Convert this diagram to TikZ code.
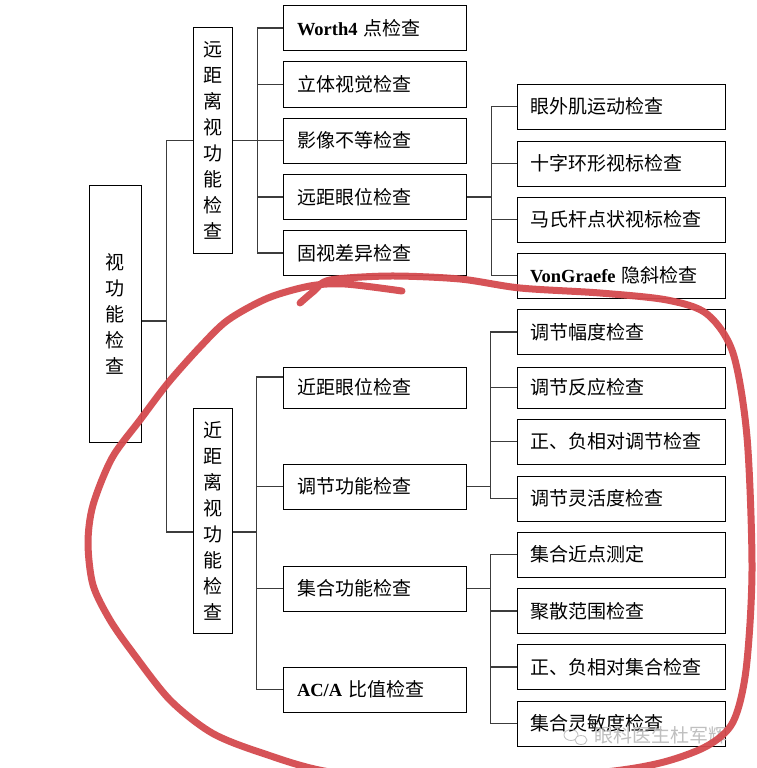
\documentclass[tikz,border=0pt]{standalone}
\usepackage{fontspec}
\setmainfont{Liberation Serif}
\newfontfamily\cjk{Noto Sans CJK SC}
\definecolor{pen}{RGB}{212,74,78}
\definecolor{wire}{RGB}{60,60,60}
\tikzset{
  box/.style={draw=black, line width=1pt, fill=white, rectangle, inner ysep=0pt,
    font=\cjk\fontsize{19}{22}\selectfont},
  midbox/.style={box, inner xsep=14pt, text width=155pt, align=left, minimum height=45pt},
  widebox/.style={box, inner xsep=13pt, text width=182pt, align=left, minimum height=45pt},
  vbox/.style={box, inner xsep=0pt, minimum width=39pt, minimum height=225pt, align=center,
    font=\cjk\fontsize{19}{26}\selectfont},
  conn/.style={draw=wire, line width=1.2pt},
  lat/.style={}
}
\newcommand{\lt}[1]{{\rmfamily\bfseries\fontsize{18.5}{22}\selectfont #1}}
\begin{document}
\begin{tikzpicture}[x=1pt,y=-1pt]
\fill[white] (0,0) rectangle (756,768);
\useasboundingbox (0,0) rectangle (756,768);

% root
\node[vbox, minimum width=52pt, minimum height=257pt] (root) at (115,313.5) {视\\功\\能\\检\\查};
% groups
\node[vbox] (far) at (212.5,140.5) {远\\距\\离\\视\\功\\能\\检\\查};
\node[vbox] (near) at (212.5,520.5) {近\\距\\离\\视\\功\\能\\检\\查};

% far children
\node[midbox] (w1) at (374.5,28) {\lt{Worth4} 点检查};
\node[midbox] (w2) at (374.5,84.5) {立体视觉检查};
\node[midbox] (w3) at (374.5,140.5) {影像不等检查};
\node[midbox] (w4) at (374.5,197) {远距眼位检查};
\node[midbox] (w5) at (374.5,253) {固视差异检查};

\node[widebox] (r1) at (621,106.5) {眼外肌运动检查};
\node[widebox] (r2) at (621,163.5) {十字环形视标检查};
\node[widebox] (r3) at (621,219.5) {马氏杆点状视标检查};
\node[widebox] (r4) at (621,275.5) {\lt{VonGraefe} 隐斜检查};

% near children
\node[midbox, minimum height=41pt] (n1) at (374.5,387.5) {近距眼位检查};
\node[midbox] (n2) at (374.5,486.5) {调节功能检查};
\node[midbox] (n3) at (374.5,588.5) {集合功能检查};
\node[midbox] (n4) at (374.5,689.5) {\lt{AC/A} 比值检查};

\node[widebox] (a1) at (621,332) {调节幅度检查};
\node[widebox, minimum height=41pt] (a2) at (621,387.5) {调节反应检查};
\node[widebox] (a3) at (621,441.5) {正、负相对调节检查};
\node[widebox] (a4) at (621,498.5) {调节灵活度检查};

\node[widebox] (c1) at (621,554.5) {集合近点测定};
\node[widebox] (c2) at (621,611) {聚散范围检查};
\node[widebox] (c3) at (621,667) {正、负相对集合检查};
\node[widebox] (c4) at (621,723.5) {集合灵敏度检查};

% connectors
\coordinate (rootc) at ([yshift=-7.5pt]root.east);
\draw[conn] (far.west) -- ++(-26,0) |- (rootc);
\draw[conn] ([yshift=-11.5pt]near.west) -- ++(-26,0) |- (rootc);

\foreach \c in {w1,w2,w3,w4,w5} \draw[conn] (\c.west) -- ++(-25,0) |- (far.east);
\foreach \c in {r1,r2,r3,r4} \draw[conn] (\c.west) -- ++(-25,0) |- (w4.east);

\draw[conn] ([yshift=10.5pt]n1.west) -- ++(-26,0) |- ([yshift=-11.5pt]near.east);
\foreach \c in {n2,n3,n4} \draw[conn] (\c.west) -- ++(-26,0) |- ([yshift=-11.5pt]near.east);
\foreach \c in {a1,a2,a3,a4} \draw[conn] (\c.west) -- ++(-26,0) |- (n2.east);
\foreach \c in {c1,c2,c3,c4} \draw[conn] (\c.west) -- ++(-26,0) |- (n3.east);

% watermark
\node[font=\cjk\fontsize{19}{22}\selectfont, text=gray!50, inner sep=0pt] (wm) at (661,735) {眼科医生杜军辉};
\draw[gray!50, line width=0.8pt] (571,735) ellipse (7pt and 5.5pt);
\draw[gray!50, line width=0.8pt, fill=white] (581,740) ellipse (6pt and 4.5pt);

% red hand-drawn loop
\begin{scope}
\clip (0,0) rectangle (756,768);
\draw[pen, line width=7pt, line cap=round, line join=round, opacity=0.95]
  plot[smooth, tension=0.5] coordinates {
  (300,303) (314,291) (330,280) (390,276) (460,279) (520,288) (600,293) (667,300)
  (707,314) (733,353) (747,437) (752,570) (746,670) (733,722) (707,746) (660,763)
  (595,773) (450,782) (330,772) (262,753) (212,733) (170,700) (133,653) (110,620)
  (93,585) (88,543) (93,505) (112,458) (140,420) (168,383) (200,347) (228,320)
  (268,298) (310,286) (345,284) (402,291)};
\end{scope}
\end{tikzpicture}
\end{document}
